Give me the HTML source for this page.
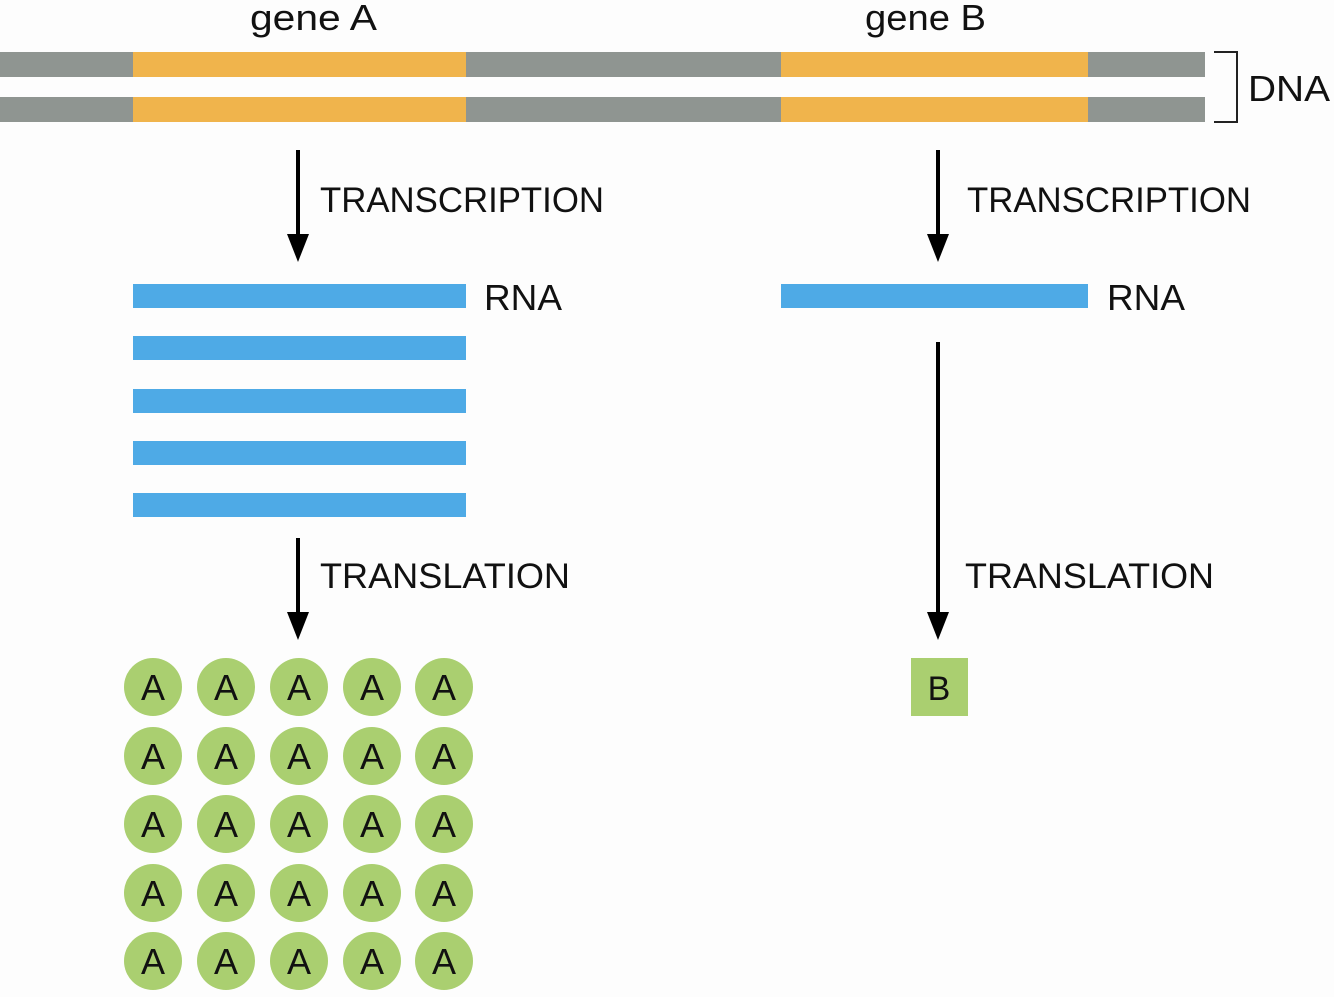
<!DOCTYPE html>
<html><head><meta charset="utf-8"><style>
html,body{margin:0;padding:0;background:#fdfdfd;}
svg{display:block;}
text{font-family:"Liberation Sans",sans-serif;fill:#111;}
</style></head><body>
<svg width="1334" height="997" viewBox="0 0 1334 997" xmlns="http://www.w3.org/2000/svg">
<rect width="1334" height="997" fill="#fdfdfd"/>
<defs>
<marker id="ah" markerWidth="22" markerHeight="28" refX="11" refY="28" orient="auto" markerUnits="userSpaceOnUse"><path d="M0,0 L22,0 L11,28 Z" fill="#000"/></marker>
</defs>
<!-- DNA -->
<g>
<rect x="0" y="52" width="1205" height="25" fill="#8f9591"/>
<rect x="0" y="97" width="1205" height="25" fill="#8f9591"/>
<rect x="133" y="52" width="333" height="25" fill="#f0b44c"/>
<rect x="133" y="97" width="333" height="25" fill="#f0b44c"/>
<rect x="781" y="52" width="307" height="25" fill="#f0b44c"/>
<rect x="781" y="97" width="307" height="25" fill="#f0b44c"/>
</g>
<path d="M1214,52 H1237 V122 H1214" fill="none" stroke="#222" stroke-width="2"/>
<text x="1248" y="101" font-size="36" textLength="82" lengthAdjust="spacingAndGlyphs">DNA</text>
<text x="250" y="30" font-size="36" textLength="127" lengthAdjust="spacingAndGlyphs">gene A</text>
<text x="865" y="30" font-size="36" textLength="121" lengthAdjust="spacingAndGlyphs">gene B</text>
<!-- arrows -->
<line x1="298" y1="150" x2="298" y2="236" stroke="#000" stroke-width="4"/>
<path d="M287,234 L309,234 L298,262 Z"/>
<line x1="938" y1="150" x2="938" y2="236" stroke="#000" stroke-width="4"/>
<path d="M927,234 L949,234 L938,262 Z"/>
<line x1="298" y1="538" x2="298" y2="614" stroke="#000" stroke-width="4"/>
<path d="M287,612 L309,612 L298,640 Z"/>
<line x1="938" y1="342" x2="938" y2="614" stroke="#000" stroke-width="4"/>
<path d="M927,612 L949,612 L938,640 Z"/>
<text x="320" y="212" font-size="35" textLength="284" lengthAdjust="spacingAndGlyphs">TRANSCRIPTION</text>
<text x="967" y="212" font-size="35" textLength="284" lengthAdjust="spacingAndGlyphs">TRANSCRIPTION</text>
<text x="320" y="588" font-size="35" textLength="250" lengthAdjust="spacingAndGlyphs">TRANSLATION</text>
<text x="965" y="588" font-size="35" textLength="249" lengthAdjust="spacingAndGlyphs">TRANSLATION</text>
<!-- RNA -->
<g fill="#4eaae6">
<rect x="133" y="284" width="333" height="24"/>
<rect x="133" y="336" width="333" height="24"/>
<rect x="133" y="389" width="333" height="24"/>
<rect x="133" y="441" width="333" height="24"/>
<rect x="133" y="493" width="333" height="24"/>
<rect x="781" y="284" width="307" height="24"/>
</g>
<text x="484" y="310" font-size="36" textLength="78" lengthAdjust="spacingAndGlyphs">RNA</text>
<text x="1107" y="310" font-size="36" textLength="78" lengthAdjust="spacingAndGlyphs">RNA</text>
<!-- proteins A -->
<g id="circles" fill="#aacf70"></g>
<g font-size="36" text-anchor="middle">
</g>
<g>
<!-- rows -->
<g fill="#aacf70">
<circle cx="153" cy="687" r="29"/><circle cx="226" cy="687" r="29"/><circle cx="299" cy="687" r="29"/><circle cx="372" cy="687" r="29"/><circle cx="444" cy="687" r="29"/>
<circle cx="153" cy="756" r="29"/><circle cx="226" cy="756" r="29"/><circle cx="299" cy="756" r="29"/><circle cx="372" cy="756" r="29"/><circle cx="444" cy="756" r="29"/>
<circle cx="153" cy="824" r="29"/><circle cx="226" cy="824" r="29"/><circle cx="299" cy="824" r="29"/><circle cx="372" cy="824" r="29"/><circle cx="444" cy="824" r="29"/>
<circle cx="153" cy="893" r="29"/><circle cx="226" cy="893" r="29"/><circle cx="299" cy="893" r="29"/><circle cx="372" cy="893" r="29"/><circle cx="444" cy="893" r="29"/>
<circle cx="153" cy="961" r="29"/><circle cx="226" cy="961" r="29"/><circle cx="299" cy="961" r="29"/><circle cx="372" cy="961" r="29"/><circle cx="444" cy="961" r="29"/>
</g>
<g font-size="36" text-anchor="middle">
<text x="153" y="700">A</text><text x="226" y="700">A</text><text x="299" y="700">A</text><text x="372" y="700">A</text><text x="444" y="700">A</text>
<text x="153" y="769">A</text><text x="226" y="769">A</text><text x="299" y="769">A</text><text x="372" y="769">A</text><text x="444" y="769">A</text>
<text x="153" y="837">A</text><text x="226" y="837">A</text><text x="299" y="837">A</text><text x="372" y="837">A</text><text x="444" y="837">A</text>
<text x="153" y="906">A</text><text x="226" y="906">A</text><text x="299" y="906">A</text><text x="372" y="906">A</text><text x="444" y="906">A</text>
<text x="153" y="974">A</text><text x="226" y="974">A</text><text x="299" y="974">A</text><text x="372" y="974">A</text><text x="444" y="974">A</text>
</g>
</g>
<!-- protein B -->
<rect x="911" y="658" width="57" height="58" fill="#aacf70"/>
<text x="939" y="700" font-size="34" text-anchor="middle">B</text>
</svg>
</body></html>
